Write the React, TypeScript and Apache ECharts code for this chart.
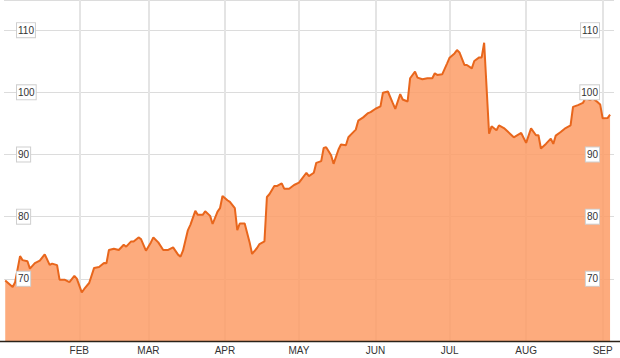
import { useEffect, useRef } from 'react';
import * as echarts from 'echarts';

const dates = [
  '2014-01-02', '2014-01-05', '2014-01-06', '2014-01-08', '2014-01-09', '2014-01-11', '2014-01-12', '2014-01-14',
  '2014-01-16', '2014-01-18', '2014-01-20', '2014-01-21', '2014-01-23', '2014-01-24', '2014-01-26', '2014-01-28',
  '2014-01-30', '2014-01-31', '2014-02-02', '2014-02-03', '2014-02-05', '2014-02-07', '2014-02-09', '2014-02-11',
  '2014-02-12', '2014-02-13', '2014-02-15', '2014-02-17', '2014-02-19', '2014-02-20', '2014-02-22', '2014-02-23',
  '2014-02-25', '2014-02-26', '2014-02-28', '2014-03-02', '2014-03-03', '2014-03-05', '2014-03-07', '2014-03-09',
  '2014-03-11', '2014-03-13', '2014-03-14', '2014-03-15', '2014-03-17', '2014-03-18', '2014-03-20', '2014-03-21',
  '2014-03-23', '2014-03-24', '2014-03-26', '2014-03-27', '2014-03-29', '2014-03-30', '2014-03-31', '2014-04-02',
  '2014-04-03', '2014-04-05', '2014-04-06', '2014-04-07', '2014-04-09', '2014-04-11', '2014-04-12', '2014-04-14',
  '2014-04-15', '2014-04-17', '2014-04-18', '2014-04-19', '2014-04-21', '2014-04-22', '2014-04-24', '2014-04-25',
  '2014-04-27', '2014-04-29', '2014-05-01', '2014-05-02', '2014-05-04', '2014-05-05', '2014-05-07', '2014-05-08',
  '2014-05-10', '2014-05-11', '2014-05-12', '2014-05-14', '2014-05-15', '2014-05-17', '2014-05-18', '2014-05-20',
  '2014-05-21', '2014-05-22', '2014-05-24', '2014-05-25', '2014-05-27', '2014-05-29', '2014-05-30', '2014-06-01',
  '2014-06-03', '2014-06-04', '2014-06-06', '2014-06-08', '2014-06-09', '2014-06-11', '2014-06-12', '2014-06-14',
  '2014-06-15', '2014-06-17', '2014-06-18', '2014-06-20', '2014-06-22', '2014-06-24', '2014-06-25', '2014-06-26',
  '2014-06-28', '2014-06-30', '2014-07-01', '2014-07-03', '2014-07-04', '2014-07-05', '2014-07-07', '2014-07-08',
  '2014-07-10', '2014-07-11', '2014-07-13', '2014-07-14', '2014-07-15', '2014-07-17', '2014-07-18', '2014-07-20',
  '2014-07-21', '2014-07-23', '2014-07-24', '2014-07-27', '2014-07-30', '2014-08-01', '2014-08-03', '2014-08-05',
  '2014-08-06', '2014-08-07', '2014-08-09', '2014-08-11', '2014-08-12', '2014-08-13', '2014-08-15', '2014-08-17',
  '2014-08-19', '2014-08-20', '2014-08-22', '2014-08-24', '2014-08-25', '2014-08-27', '2014-08-28', '2014-08-30',
  '2014-08-31', '2014-09-01', '2014-09-03', '2014-09-04',
];

const prices = [
  69.73, 68.69, 69.46, 73.65, 73.01, 72.82, 71.65, 72.53,
  72.93, 73.94, 72.24, 72.45, 72.21, 69.86, 69.86, 69.46,
  70.48, 70.02, 67.81, 68.37, 69.33, 71.76, 71.89, 72.56,
  72.5, 74.64, 74.85, 74.64, 75.49, 75.17, 76.02, 76.02,
  76.66, 76.4, 74.53, 75.86, 76.66, 75.86, 74.64, 74.64,
  75.06, 73.89, 73.57, 74.53, 77.84, 78.69, 80.93, 80.29,
  80.29, 80.88, 80.13, 78.82, 80.82, 81.36, 83.33, 82.64,
  82.37, 81.36, 77.84, 78.9, 78.9, 75.86, 74.0, 74.96,
  75.6, 76.02, 83.17, 83.6, 84.93, 84.93, 85.36, 84.5,
  84.5, 85.09, 85.46, 86.0, 87.06, 86.53, 87.06, 88.66,
  88.93, 91.06, 91.17, 89.89, 88.5, 90.8, 91.6, 91.49,
  92.77, 93.2, 94.0, 95.44, 95.97, 96.66, 96.82, 97.36,
  97.73, 99.94, 100.13, 98.26, 97.33, 99.7, 98.85, 98.53,
  102.26, 103.33, 102.37, 102.1, 102.26, 102.26, 103.06, 102.8,
  102.9, 104.66, 105.57, 106.26, 106.8, 106.42, 104.4, 104.4,
  103.86, 105.04, 105.62, 105.62, 107.97, 93.33, 94.53, 93.89,
  94.69, 94.26, 93.89, 92.77, 93.46, 91.86, 94.21, 93.09,
  93.09, 90.96, 91.7, 92.56, 91.7, 93.04, 93.62, 94.26,
  94.69, 97.65, 97.94, 98.29, 99.04, 98.77, 99.01, 98.42,
  98.05, 95.81, 95.86, 96.4,
];

const monthNames = ['JAN', 'FEB', 'MAR', 'APR', 'MAY', 'JUN', 'JUL', 'AUG', 'SEP', 'OCT', 'NOV', 'DEC'];
const monthStarts = ['2014-02-01', '2014-03-01', '2014-04-01', '2014-05-01', '2014-06-01', '2014-07-01', '2014-08-01', '2014-09-01'];

const FONT = '"Liberation Sans", Arial, sans-serif';

export default function App() {
  const ref = useRef<HTMLDivElement>(null);

  useEffect(() => {
    document.body.style.margin = '0';
    const chart = echarts.init(ref.current!, null, { renderer: 'svg' });
    const DAY = 86400000;
    const t0 = new Date(2014, 0, 1).getTime();
    const Y_MIN = 60;
    const Y_MAX = 114.85;

    const yLabel = {
      inside: true,
      fontSize: 10,
      fontFamily: FONT,
      color: '#333',
      backgroundColor: '#fff',
      borderColor: '#cfcfcf',
      borderWidth: 1,
      padding: [2, 1, 1, 1],
      lineHeight: 11,
      verticalAlign: 'middle',
      showMinLabel: false,
      showMaxLabel: false,
    };

    const baseY = {
      type: 'value',
      min: Y_MIN,
      max: Y_MAX,
      interval: 10,
      axisLine: { show: false },
      axisTick: { show: false },
    };

    chart.setOption({
      animation: false,
      grid: { left: 4, right: 6, top: -2, bottom: 17 },
      xAxis: {
        type: 'time',
        min: t0 + 0.5 * DAY,
        max: t0 + 247.6 * DAY,
        minInterval: 28 * DAY,
        maxInterval: 31 * DAY,
        axisLine: { show: false },
        axisTick: { show: false },
        splitLine: { show: false },
        axisLabel: {
          margin: 4,
          fontSize: 10,
          fontFamily: FONT,
          color: '#333',
          formatter: (v: number) => {
            const d = new Date(v);
            if (d.getDate() !== 1 || d.getHours() !== 0 || d.getMonth() === 0) return '';
            return monthNames[d.getMonth()];
          },
        },
      },
      yAxis: [
        {
          ...baseY,
          position: 'left',
          z: 0,
          splitLine: { show: true, lineStyle: { color: '#dcdcdc', width: 1 } },
          axisLabel: { show: false },
        },
        {
          ...baseY,
          position: 'left',
          z: 10,
          splitLine: { show: false },
          axisLabel: { ...yLabel, margin: 13 },
        },
        {
          ...baseY,
          position: 'right',
          z: 10,
          splitLine: { show: false },
          axisLabel: { ...yLabel, margin: 15 },
        },
      ],
      series: [
        {
          type: 'line',
          data: [],
          z: 0,
          silent: true,
          markLine: {
            z: 0,
            silent: true,
            symbol: ['none', 'none'],
            label: { show: false },
            lineStyle: { color: '#e4e4e4', width: 2, type: 'solid' },
            data: monthStarts.map((d) => ({ xAxis: d })),
          },
        },
        {
          type: 'line',
          z: 2,
          data: dates.map((d, i) => [d, prices[i]]),
          symbol: 'none',
          showSymbol: false,
          lineStyle: { color: '#e8661c', width: 2 },
          areaStyle: { color: '#fd9d68', opacity: 0.86, origin: 'start' },
        },
      ],
      graphic: [
        {
          type: 'line',
          z: 100,
          shape: { x1: 0, y1: 341.5, x2: 620, y2: 341.5 },
          style: { stroke: '#2a2218', lineWidth: 1.5 },
        },
      ],
    });

    return () => chart.dispose();
  }, []);

  return <div ref={ref} style={{ width: 620, height: 358 }} />;
}
